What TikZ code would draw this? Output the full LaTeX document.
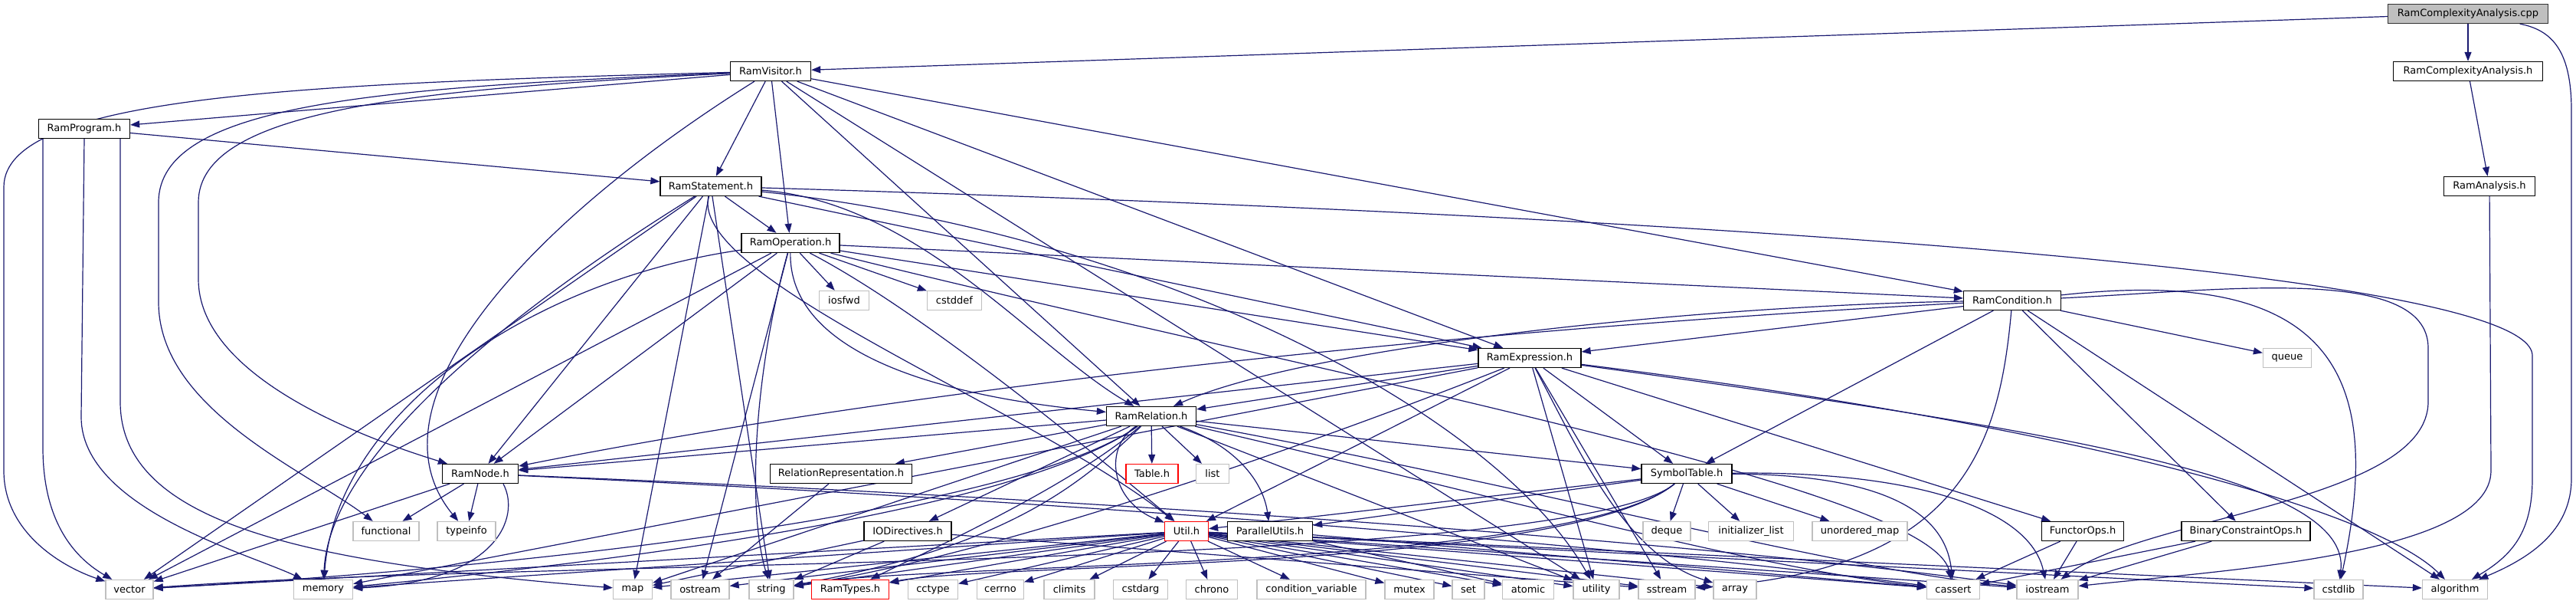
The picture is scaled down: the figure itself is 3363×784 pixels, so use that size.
\documentclass[tikz,border=0pt]{standalone}
\usepackage{fontspec}
\newfontfamily\nodefont{DejaVu Sans}
\usetikzlibrary{arrows.meta,backgrounds}
\definecolor{edgeblue}{HTML}{191970}
\definecolor{sysgray}{HTML}{BFBFBF}
\definecolor{rootgray}{HTML}{BFBFBF}
\begin{document}
\begin{tikzpicture}[x=1pt,y=1pt,
  nd/.style={line width=1.3pt, minimum height=25pt, inner sep=0pt, fill=white, text=black,
             font={\nodefont\fontsize{13}{15}\selectfont}},
  hdr/.style={nd, draw=black},
  sys/.style={nd, draw=sysgray},
  trunc/.style={nd, draw=red},
  root/.style={nd, draw=black!80, fill=rootgray},
  edge/.style={draw=edgeblue, line width=1.2pt, -{Triangle[length=12pt,width=9pt]}}]
\useasboundingbox (0,0) rectangle (3363,784);
% rank 0
\node[root,minimum width=209pt] (cpp) at (3222,766) {RamComplexityAnalysis.cpp};
% rank 1
\node[hdr,minimum width=195pt] (rca) at (3222,691) {RamComplexityAnalysis.h};
\node[hdr,minimum width=105pt] (visitor) at (1006,691) {RamVisitor.h};
% rank 2
\node[hdr,minimum width=119pt] (program) at (110,616) {RamProgram.h};
% rank 3
\node[hdr,minimum width=132pt] (stmt) at (928,541) {RamStatement.h};
\node[hdr,minimum width=119pt] (analysis) at (3250,541) {RamAnalysis.h};
% rank 4
\node[hdr,minimum width=128pt] (oper) at (1032,467) {RamOperation.h};
% rank 5
\node[hdr,minimum width=127pt] (cond) at (2627,392) {RamCondition.h};
\node[sys,minimum width=65pt] (iosfwd) at (1102,392) {iosfwd};
\node[sys,minimum width=71pt] (cstddef) at (1246,392) {cstddef};
% rank 6
\node[hdr,minimum width=134pt] (expr) at (1997,317) {RamExpression.h};
\node[sys,minimum width=63pt] (queue) at (2986,317) {queue};
% rank 7
\node[hdr,minimum width=117pt] (rel) at (1503,241) {RamRelation.h};
% rank 8
\node[hdr,minimum width=99pt] (ramnode) at (627,166) {RamNode.h};
\node[hdr,minimum width=185pt] (relrep) at (1098,166) {RelationRepresentation.h};
\node[trunc,minimum width=68pt] (table) at (1504,166) {Table.h};
\node[sys,minimum width=43pt] (list) at (1583,166) {list};
\node[hdr,minimum width=118pt] (symtab) at (2202,166) {SymbolTable.h};
% rank 9
\node[sys,minimum width=86pt] (functional) at (504,91) {functional};
\node[sys,minimum width=76pt] (typeinfo) at (609,91) {typeinfo};
\node[hdr,minimum width=114pt] (iodir) at (1185,91) {IODirectives.h};
\node[trunc,minimum width=57pt] (util) at (1549,91) {Util.h};
\node[hdr,minimum width=111pt] (parutil) at (1658,91) {ParallelUtils.h};
\node[sys,minimum width=62pt] (deque) at (2176,91) {deque};
\node[sys,minimum width=111pt] (initlist) at (2286,91) {initializer\_list};
\node[sys,minimum width=124pt] (umap) at (2428,91) {unordered\_map};
\node[hdr,minimum width=107pt] (functor) at (2719,91) {FunctorOps.h};
\node[hdr,minimum width=168pt] (binop) at (2932,91) {BinaryConstraintOps.h};
% rank 10
\node[sys,minimum width=62pt] (vector) at (169,15) {vector};
\node[sys,minimum width=77pt] (memory) at (422,15) {memory};
\node[sys,minimum width=51pt] (map) at (826,15) {map};
\node[sys,minimum width=76pt] (ostream) at (914,15) {ostream};
\node[sys,minimum width=58pt] (string) at (1007,15) {string};
\node[trunc,minimum width=101pt] (ramtypes) at (1110,15) {RamTypes.h};
\node[sys,minimum width=65pt] (cctype) at (1218,15) {cctype};
\node[sys,minimum width=61pt] (cerrno) at (1306,15) {cerrno};
\node[sys,minimum width=66pt] (climits) at (1396,15) {climits};
\node[sys,minimum width=71pt] (cstdarg) at (1489,15) {cstdarg};
\node[sys,minimum width=67pt] (chrono) at (1582,15) {chrono};
\node[sys,minimum width=142pt] (condvar) at (1712,15) {condition\_variable};
\node[sys,minimum width=64pt] (mutex) at (1840,15) {mutex};
\node[sys,minimum width=42pt] (set) at (1917,15) {set};
\node[sys,minimum width=67pt] (atomic) at (1995,15) {atomic};
\node[sys,minimum width=60pt] (utility) at (2084,15) {utility};
\node[sys,minimum width=74pt] (sstream) at (2176,15) {sstream};
\node[sys,minimum width=56pt] (array) at (2265,15) {array};
\node[sys,minimum width=69pt] (cassert) at (2550,15) {cassert};
\node[sys,minimum width=80pt] (iostream) at (2673,15) {iostream};
\node[sys,minimum width=64pt] (cstdlib) at (3053,15) {cstdlib};
\node[sys,minimum width=85pt] (algorithm) at (3205,15) {algorithm};

\begin{scope}[on background layer]
\fill[white] (0,0) rectangle (3363,784);
% straight connectors
\foreach \tg in {visitor,rca} \draw[edge] (cpp) -- (\tg);
\draw[edge] (rca) -- (analysis);
\foreach \tg in {program,stmt,oper,cond,expr,rel,utility} \draw[edge] (visitor) -- (\tg);
\draw[edge] (program) -- (stmt);
\foreach \tg in {oper,ramnode,expr,vector,string,map} \draw[edge] (stmt) -- (\tg);
\foreach \tg in {cond,expr,ramnode,iosfwd,cstddef,vector,ostream} \draw[edge] (oper) -- (\tg);
\foreach \tg in {expr,symtab,binop,queue,algorithm} \draw[edge] (cond) -- (\tg);
\foreach \tg in {rel,ramnode,symtab,functor,util,utility,sstream,memory} \draw[edge] (expr) -- (\tg);
\foreach \tg in {ramnode,relrep,table,list,symtab,iodir,map,utility} \draw[edge] (rel) -- (\tg);
\foreach \tg in {functional,typeinfo,vector} \draw[edge] (ramnode) -- (\tg);
\foreach \tg in {parutil,util,deque,initlist,umap} \draw[edge] (symtab) -- (\tg);
\foreach \tg in {ramtypes,vector,memory,map,ostream,string,cctype,cerrno,climits,cstdarg,chrono,condvar,mutex,set,atomic,utility,sstream,array,cassert,iostream,cstdlib,algorithm} \draw[edge] (util) -- (\tg);
\foreach \tg in {atomic,cassert} \draw[edge] (parutil) -- (\tg);
\foreach \tg in {map,string,sstream} \draw[edge] (iodir) -- (\tg);
\draw[edge] (relrep) -- (ostream);
\foreach \tg in {cassert,iostream} \draw[edge] (functor) -- (\tg);
\foreach \tg in {cassert,iostream} \draw[edge] (binop) -- (\tg);
% routed connectors
\draw[edge] (cpp) .. controls (3330,745) and (3357,720) .. (3357,640) -- (3357,160) .. controls (3357,90) and (3300,55) .. (algorithm);
\draw[edge] (analysis) -- (3252,170) .. controls (3252,60) and (2900,40) .. (iostream);
\draw[edge] (visitor) .. controls (400,675) and (5,660) .. (5,540) -- (5,170) .. controls (5,90) and (80,45) .. (vector);
\draw[edge] (visitor) .. controls (500,670) and (207,650) .. (207,520) -- (207,390) .. controls (207,250) and (400,170) .. (functional);
\draw[edge] (visitor) .. controls (560,668) and (259,645) .. (259,520) -- (259,420) .. controls (259,300) and (450,220) .. (ramnode);
\draw[edge] (visitor) .. controls (700,500) and (470,260) .. (typeinfo);
\draw[edge] ([xshift=-54pt]program.south) -- (56,200) .. controls (56,100) and (100,55) .. (vector);
\draw[edge] (program.south) -- (106,240) .. controls (106,120) and (330,60) .. (memory);
\draw[edge] ([xshift=47pt]program.south) -- (157,260) .. controls (157,100) and (400,50) .. (map);
\draw[edge] (stmt) .. controls (1800,515) and (3306,450) .. (3306,320) -- (3306,160) .. controls (3306,90) and (3280,60) .. (algorithm);
\draw[edge] (stmt) .. controls (1200,520) and (1350,330) .. (rel);
\draw[edge] (stmt) .. controls (900,420) and (1350,250) .. (util);
\draw[edge] (stmt) .. controls (700,400) and (430,200) .. (memory);
\draw[edge] (stmt) .. controls (1500,480) and (1950,250) .. (utility);
\draw[edge] (oper) .. controls (1030,300) and (1300,260) .. (rel);
\draw[edge] (oper) .. controls (1200,380) and (1420,200) .. (util);
\draw[edge] (oper) .. controls (700,420) and (440,250) .. (memory);
\draw[edge] (oper) .. controls (985,300) and (975,120) .. (string);
\draw[edge] (oper) .. controls (1700,300) and (2520,150) .. (cassert);
\draw[edge] (cond) .. controls (2200,385) and (1700,330) .. (rel);
\draw[edge] (cond) .. controls (2100,365) and (1300,300) .. (ramnode);
\draw[edge] (cond) .. controls (2610,200) and (2560,40) .. (sstream);
\draw[edge] (cond) .. controls (3060,440) and (3110,280) .. (cstdlib);
\draw[edge] (cond) .. controls (2900,405) and (3170,440) .. (3170,330) -- (3170,260) .. controls (3170,130) and (2800,110) .. (iostream);
\draw[edge] (expr) .. controls (1700,200) and (1300,60) .. (string);
\draw[edge] (expr) .. controls (2060,200) and (2120,60) .. (array);
\draw[edge] (expr) .. controls (2700,230) and (3100,120) .. (algorithm);
\draw[edge] (expr) .. controls (2700,220) and (3070,160) .. (cstdlib);
\draw[edge] (rel) .. controls (1350,130) and (800,50) .. (vector);
\draw[edge] (rel) .. controls (1350,130) and (900,60) .. (memory);
\draw[edge] (rel) .. controls (1400,140) and (1300,70) .. (string);
\draw[edge] (rel) .. controls (1900,150) and (2300,40) .. (cassert);
\draw[edge] (rel) .. controls (2000,150) and (2400,40) .. (iostream);
\draw[edge] (rel) .. controls (1620,200) and (1650,150) .. (parutil);
\draw[edge] (rel) .. controls (1440,200) and (1450,130) .. (util);
\draw[edge] (rel) .. controls (1400,150) and (1200,60) .. (ramtypes);
\draw[edge] ([xshift=30pt]ramnode.south) .. controls (680,110) and (650,25) .. (memory);
\draw[edge] (ramnode) .. controls (1400,130) and (2100,75) .. (cassert);
\draw[edge] (ramnode) .. controls (1400,135) and (2200,80) .. (iostream);
\draw[edge] (symtab) .. controls (2050,40) and (700,55) .. (vector);
\draw[edge] (symtab) .. controls (2050,40) and (1200,50) .. (string);
\draw[edge] (symtab) .. controls (2050,40) and (1300,50) .. (ramtypes);
\draw[edge] (symtab) .. controls (2450,165) and (2540,120) .. (cassert);
\draw[edge] (symtab) .. controls (2500,170) and (2650,120) .. (iostream);
\end{scope}
\end{tikzpicture}
\end{document}
